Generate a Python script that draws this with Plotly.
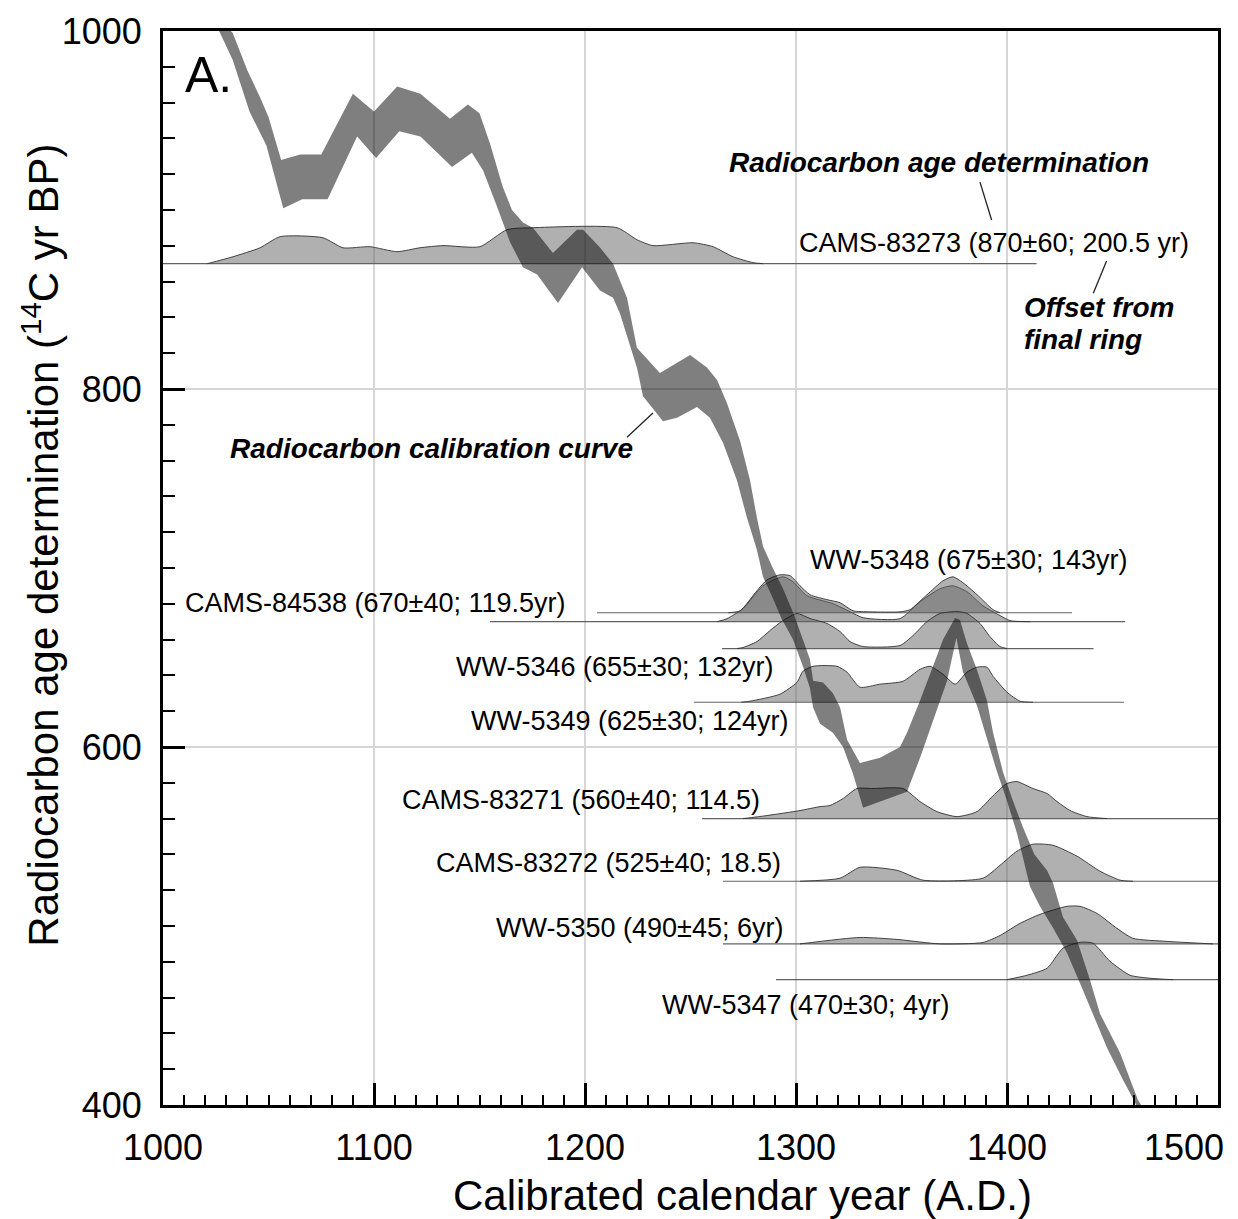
import plotly.graph_objects as go

# ---------------- calibration curve band (upper / lower edges, 14C yr BP) ----------------
cal_upper_year = [1015, 1020, 1027, 1033, 1040, 1046, 1050, 1056, 1065, 1075, 1090, 1100, 1111, 1122,
                  1136, 1144.5, 1150, 1155, 1161, 1165.4, 1170.6, 1175.4, 1184.8, 1196.2, 1199.1, 1207.1,
                  1213.3, 1219.9, 1224.6, 1235.5, 1249.8, 1257.8, 1262.6, 1267.3, 1273.5, 1278.2, 1281.5,
                  1284.4, 1289, 1294, 1299, 1303.3, 1306.6, 1308.1, 1312.8, 1317.5, 1320.9, 1324.2, 1330.3,
                  1339.8, 1349.3, 1352.6, 1358.8, 1364.9, 1369.7, 1375.4, 1377.7, 1381.0, 1385.8, 1390.5,
                  1393.4, 1398.1, 1402.8, 1407.6, 1413, 1419.0, 1421.8, 1426.5, 1433.2, 1439.3, 1444.1,
                  1453.6, 1458.3, 1462, 1470]
cal_upper_age = [1030, 1021, 1006, 999, 978, 963, 952, 928, 931, 931, 965, 955, 969, 965,
                 951, 959, 954, 937, 913, 900, 893, 890, 876, 889, 889, 879,
                 870, 851, 823, 809, 819, 812, 805, 792, 771, 749, 728,
                 712, 700, 688, 674, 660, 649, 637, 636, 630, 622, 604, 591,
                 594, 600, 608, 626, 645, 660, 672, 671, 658, 643, 626,
                 608, 586, 570, 555, 540, 531, 524, 505, 492, 470, 451,
                 429, 414, 403, 388]
cal_lower_year = [1015, 1020, 1027, 1033, 1041, 1049, 1057, 1066, 1078, 1092, 1101, 1112, 1122, 1137,
                  1146.4, 1151.7, 1158.3, 1164.5, 1170.6, 1177.3, 1187.2, 1198.6, 1207.1, 1213.3, 1216.6,
                  1224.6, 1227.5, 1237.0, 1243.6, 1253.1, 1259.2, 1265.4, 1272.0, 1276.8, 1281.5, 1284.4,
                  1289.1, 1293, 1298.6, 1303.3, 1306.6, 1308.1, 1311.4, 1317.5, 1322.3, 1327.0, 1331.8,
                  1341.2, 1352.6, 1358.8, 1364.9, 1371.6, 1376, 1379.1, 1385.8, 1390.5, 1395.3, 1400.0,
                  1404.7, 1410.9, 1415.6, 1421.8, 1428.4, 1434.6, 1440.8, 1447.4, 1455.0, 1460, 1470]
cal_lower_age = [1025, 1013, 999, 984, 955, 936, 901, 906, 906, 941, 929, 944, 941, 924,
                 932, 922, 902, 882, 868, 864, 848, 868, 855, 851, 842,
                 812, 796, 782, 784, 790, 784, 770, 749, 728, 710, 695,
                 683, 672, 660, 645, 633, 622, 613, 608, 600, 585, 566,
                 570, 575, 594, 615, 637, 661, 642, 623, 604, 586, 570,
                 552, 522, 511, 499, 485, 468, 451, 432, 414, 403, 378]

# ---------------- calibrated age probability distributions ----------------
# each sample: measured 14C age (baseline), calendar years, plotted density height (14C-yr units)
s1_name, s1_age = "CAMS-83273", 870
s1_year = [1021, 1033.2, 1046, 1055.5, 1075.8, 1085.3, 1098.1, 1110.9, 1121.8, 1132.7, 1150.2, 1163,
           1175.4, 1215.2, 1224.6, 1232.2, 1251.2, 1260.7, 1270.1, 1279.6, 1284.4]
s1_h = [0, 3.9, 8.9, 15.1, 14.5, 8.9, 9.5, 6.7, 8.9, 10.1, 9.5, 19.0,
        20.1, 20.1, 13.4, 10.1, 11.7, 9.5, 3.9, 0.6, 0]

s2_name, s2_age = "CAMS-84538", 670
s2_year = [1262.6, 1267.3, 1274.9, 1284.4, 1293.8, 1298.6, 1305.2, 1317.5, 1325.6, 1331.8, 1349.3,
           1358.8, 1368.2, 1374.4, 1381.0, 1388.6, 1396.7, 1401.4, 1411]
s2_h = [0, 1.7, 7.3, 20.1, 25.1, 22.3, 14.5, 10.1, 5.6, 2.2, 1.7,
        11.2, 18.4, 20.1, 16.8, 8.9, 3.4, 0.6, 0]

s3_name, s3_age = "WW-5348", 675
s3_year = [1268, 1273.5, 1281.5, 1286.3, 1292.4, 1297.2, 1301.9, 1306.6, 1314.7, 1320.9, 1327.0, 1335.1,
           1349.3, 1354.0, 1362.1, 1369.7, 1374.4, 1379.1, 1385.8, 1393.4, 1396.7]
s3_h = [0, 1.1, 12.3, 18.4, 21.2, 20.7, 15.1, 10.1, 7.3, 5.6, 1.1, 0.5,
        0.5, 1.7, 10.1, 17.9, 20.1, 16.8, 10.1, 1.7, 0]

s4_name, s4_age = "WW-5346", 655
s4_year = [1272, 1274.9, 1281.5, 1287.7, 1293.8, 1300.5, 1306.6, 1314.7, 1320.9, 1325.6, 1331.8, 1349.3,
           1355.5, 1362.1, 1368.2, 1376.3, 1381.0, 1387.2, 1391.9, 1396.7, 1400]
s4_h = [0, 0.6, 3.9, 10.1, 15.6, 19.6, 16.8, 14.0, 9.5, 3.9, 1.1, 1.7,
        7.3, 15.1, 19.6, 20.7, 19.6, 14.0, 6.7, 1.1, 0]

s5_name, s5_age = "WW-5349", 625
s5_year = [1274, 1278.2, 1292.4, 1300.5, 1303.3, 1308.1, 1319.4, 1324.2, 1330.3, 1339.8, 1350.7, 1358.8,
           1363.5, 1369.7, 1375.4, 1381.0, 1385.8, 1390.5, 1393.4, 1400.0, 1406.2, 1412.3]
s5_h = [0, 0.6, 4.5, 11.2, 17.3, 20.1, 20.1, 16.8, 8.4, 10.1, 11.7, 18.4,
        20.1, 15.6, 10.1, 16.8, 19.6, 19.6, 14.5, 5.6, 0.6, 0]

s6_name, s6_age = "CAMS-83271", 560
s6_year = [1274.9, 1286.3, 1301.9, 1311.4, 1316.1, 1322.3, 1328.9, 1336.5, 1350.7, 1358.8, 1366.8,
           1376.3, 1385.8, 1393.4, 1400.0, 1404.7, 1412.3, 1419.0, 1423.7, 1429.9, 1437.9, 1447.4]
s6_h = [0, 1.7, 4.5, 6.7, 7.3, 11.2, 16.8, 16.8, 16.8, 9.5, 3.9,
        1.1, 3.9, 12.8, 19.6, 20.7, 16.8, 14.0, 9.5, 4.5, 1.1, 0]

s7_name, s7_age = "CAMS-83272", 525
s7_year = [1301.9, 1320.9, 1330.3, 1347.9, 1360.2, 1388.6, 1396.7, 1404.7, 1412.3, 1421.8, 1433.2,
           1444.1, 1453.6, 1459.7]
s7_h = [0, 1.7, 7.8, 6.1, 0.6, 1.7, 8.9, 16.8, 20.7, 20.1, 14.0, 5.6, 0.6, 0]

s8_name, s8_age = "WW-5350", 490
s8_year = [1301.9, 1330.3, 1347.9, 1368.2, 1388.6, 1396.7, 1406.2, 1415.6, 1428.4, 1434.6, 1442.7,
           1452.1, 1459.7, 1475.8, 1497.6]
s8_h = [0, 3.6, 2.5, 0, 0.8, 4.7, 11.5, 16.5, 21.0, 21.0, 17.0, 8.7, 3.1, 1.4, 0]

s9_name, s9_age = "WW-5347", 470
s9_year = [1400.0, 1409.5, 1419.0, 1426.5, 1434.6, 1440.8, 1448.8, 1458.3, 1467.8, 1478.7]
s9_h = [0, 2.5, 6.4, 17.6, 20.9, 20.4, 10.3, 2.5, 0.8, 0]

# baseline extents (calendar years) for each distribution
base_start = [1000, 1155, 1205.7, 1265, 1251.7, 1255.5, 1265.4, 1265.4, 1290.5]
base_end = [1414, 1456, 1430.8, 1441, 1455.5, 1500, 1500, 1500, 1500]

sample_ages = [s1_age, s2_age, s3_age, s4_age, s5_age, s6_age, s7_age, s8_age, s9_age]
sample_years = [s1_year, s2_year, s3_year, s4_year, s5_year, s6_year, s7_year, s8_year, s9_year]
sample_h = [s1_h, s2_h, s3_h, s4_h, s5_h, s6_h, s7_h, s8_h, s9_h]

# labels: text, x (year), y (14C age), anchor
sample_labels = ["CAMS-83273 (870±60; 200.5 yr)", "CAMS-84538 (670±40; 119.5yr)",
                 "WW-5348 (675±30; 143yr)", "WW-5346 (655±30; 132yr)", "WW-5349 (625±30; 124yr)",
                 "CAMS-83271 (560±40; 114.5)", "CAMS-83272 (525±40; 18.5)", "WW-5350 (490±45; 6yr)",
                 "WW-5347 (470±30; 4yr)"]
label_x = [1300.5, 1191.9, 1305.7, 1290, 1297.2, 1283.9, 1293.8, 1294.8, 1235.5]
label_y = [881.6, 680.4, 704.5, 644.7, 614.5, 570.4, 535.2, 498.9, 455.9]
label_anchor = ["left", "right", "left", "right", "right", "right", "right", "right", "left"]

# axis ticks
x_tickvals = [1000, 1100, 1200, 1300, 1400, 1500]
x_ticktext = ["1000", "1100", "1200", "1300", "1400", ""]   # last label drawn flush to the edge below
x_last_label = "1500"
y_tickvals = [400, 600, 800, 1000]

REG = "Liberation Sans, Arial, sans-serif"

fig = go.Figure()

# distributions
for age, yrs, hs, x0, x1 in zip(sample_ages, sample_years, sample_h, base_start, base_end):
    fig.add_trace(go.Scatter(x=[x0, x1], y=[age, age], mode="lines",
                             line=dict(color="rgba(70,70,70,0.85)", width=1.2),
                             hoverinfo="skip", showlegend=False))
    fig.add_trace(go.Scatter(x=yrs, y=[age + h for h in hs], mode="lines", fill="toself",
                             fillcolor="rgba(103,103,103,0.52)",
                             line=dict(color="rgba(50,50,50,0.9)", width=1, shape="spline", smoothing=0.6),
                             hoverinfo="skip", showlegend=False))

# calibration curve band
fig.add_trace(go.Scatter(x=cal_upper_year + cal_lower_year[::-1],
                         y=cal_upper_age + cal_lower_age[::-1],
                         mode="lines", fill="toself", fillcolor="rgba(10,10,10,0.52)",
                         line=dict(width=0, color="rgba(0,0,0,0)"),
                         hoverinfo="skip", showlegend=False))

annotations = []
for t, x, y, a in zip(sample_labels, label_x, label_y, label_anchor):
    annotations.append(dict(x=x, y=y, xref="x", yref="y", text=t, showarrow=False,
                            xanchor=a, yanchor="middle",
                            font=dict(family=REG, size=27, color="black")))

BI = dict(family=REG, size=28, color="black")
annotations += [
    dict(x=1367.8, y=926.8, xref="x", yref="y", text="<b><i>Radiocarbon age determination</i></b>",
         showarrow=False, xanchor="center", yanchor="middle", font=BI),
    dict(x=1407, y=845.8, xref="x", yref="y", text="<b><i>Offset from</i></b>",
         showarrow=False, xanchor="left", yanchor="middle", font=BI),
    dict(x=1407, y=827.4, xref="x", yref="y", text="<b><i>final ring</i></b>",
         showarrow=False, xanchor="left", yanchor="middle", font=BI),
    dict(x=1030.8, y=767, xref="x", yref="y", text="<b><i>Radiocarbon calibration curve</i></b>",
         showarrow=False, xanchor="left", yanchor="middle", font=BI),
    dict(x=1009.5, y=975.4, xref="x", yref="y", text="A.", showarrow=False,
         xanchor="left", yanchor="middle", font=dict(family=REG, size=50, color="black")),
    dict(x=x_tickvals[-1], y=-0.0395, xref="x", yref="paper", text=x_last_label, showarrow=False,
         xanchor="right", yanchor="middle", xshift=8,
         font=dict(family=REG, size=36, color="black")),
    dict(x=0.549, y=-0.0838, xref="paper", yref="paper", text="Calibrated calendar year (A.D.)",
         showarrow=False, xanchor="center", yanchor="middle",
         font=dict(family=REG, size=42, color="black")),
    dict(x=-0.1160, y=0.5214, xref="paper", yref="paper",
         text="Radiocarbon age determination (<sup>14</sup>C yr BP)", textangle=-90,
         showarrow=False, xanchor="center", yanchor="middle",
         font=dict(family=REG, size=42, color="black")),
]

leaders = [((1387.2, 915.6), (1392.7, 894.4)),
           ((1447.2, 871.5), (1440.9, 853.5)),
           ((1219.9, 773.0), (1232.2, 786.6))]
shapes = [dict(type="line", xref="x", yref="y", x0=a[0], y0=a[1], x1=b[0], y1=b[1],
               line=dict(color="#222", width=1.3)) for a, b in leaders]

fig.update_layout(
    width=1230, height=1211,
    margin=dict(l=155, r=20, t=23, b=114),
    paper_bgcolor="white", plot_bgcolor="white",
    showlegend=False,
    annotations=annotations, shapes=shapes,
    xaxis=dict(range=[1000, 1500], tickvals=x_tickvals, ticktext=x_ticktext,
               ticks="inside", ticklen=22, tickwidth=3, tickcolor="black",
               minor=dict(dtick=10, tick0=1000, ticks="inside", ticklen=10, tickwidth=2,
                          tickcolor="black", showgrid=False),
               showline=True, linewidth=3, linecolor="black", mirror=True,
               showgrid=True, gridcolor="#d6d6d6", gridwidth=1.5, zeroline=False,
               tickfont=dict(family=REG, size=36, color="black"),
               ticklabelstandoff=9, ticklabeloverflow="allow", automargin=False),
    yaxis=dict(range=[400, 1000], tickvals=y_tickvals,
               ticks="inside", ticklen=22, tickwidth=3, tickcolor="black",
               minor=dict(dtick=20, tick0=400, ticks="inside", ticklen=12, tickwidth=2,
                          tickcolor="black", showgrid=False),
               showline=True, linewidth=3, linecolor="black", mirror=True,
               showgrid=True, gridcolor="#d6d6d6", gridwidth=1.5, zeroline=False,
               tickfont=dict(family=REG, size=36, color="black"),
               ticklabelstandoff=11, ticklabeloverflow="allow", automargin=False),
)

fig.write_html("out.html")
